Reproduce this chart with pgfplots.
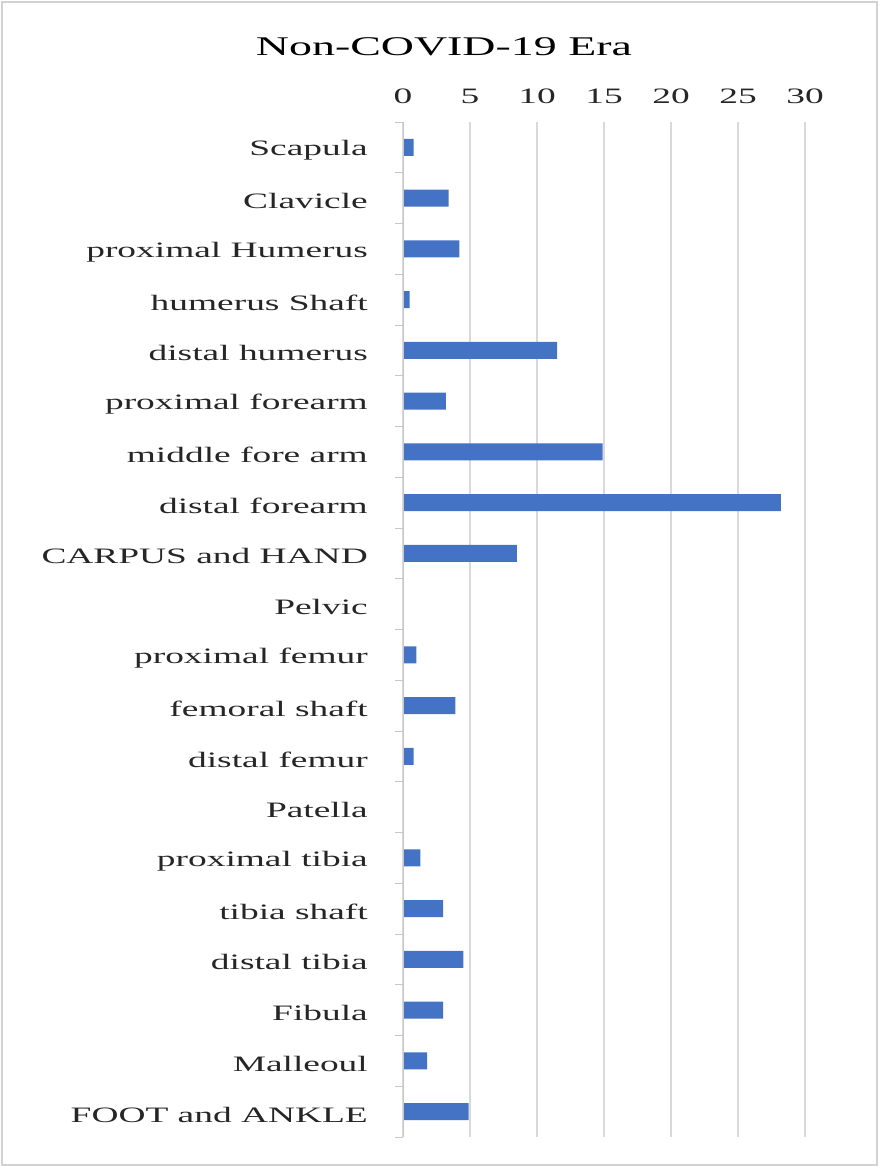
\documentclass[border=0pt]{standalone}
\usepackage{pgfplots}
\pgfplotsset{compat=1.18}
\usepackage{fontspec}
\setmainfont{Liberation Serif}[FakeStretch=1.7]
\definecolor{barblue}{RGB}{68,114,196}
\definecolor{gridgray}{RGB}{217,217,217}

\begin{document}
\begin{tikzpicture}
	\useasboundingbox (0,0) rectangle (879pt,1167pt);
	\draw [gray!35, line width=2pt] (2pt,2pt) rectangle (877pt,1165pt);
	\node [font=\fontsize{27}{32}\selectfont] at (444pt,1120pt) {Non-COVID-19 Era};
	\begin{axis}[
	at={(403pt,30pt)},
	anchor=south west,
	scale only axis,
	width=402pt,
	height=1015pt,
	xbar,
	bar width=17pt,
	xmin=0,
	xmax=30,
	ymin=-0.5,
	ymax=19.5,
	y dir=reverse,
	xtick={0,5,...,30},
	xticklabel pos=upper,
	xtick pos=upper,
	x tick style={draw=none},
	xmajorgrids,
	major x grid style={gridgray, line width=2pt},
	ytick={-0.5,0.5,...,19.5},
	yticklabels={},
	y tick style={gridgray!80!gray, line width=1pt},
	tick align=outside,
	ytick pos=left,
	major tick length=8pt,
	extra y ticks={0,1,...,19},
	extra y tick labels={Scapula,Clavicle,proximal Humerus,humerus Shaft,distal humerus,proximal forearm,middle fore arm,distal forearm,CARPUS and HAND,Pelvic,proximal femur,femoral shaft,distal femur,Patella,proximal tibia,tibia shaft,distal tibia,Fibula,Malleoul,FOOT and ANKLE},
	extra y tick style={major tick length=0pt, yticklabel style={anchor=east, inner sep=0pt, xshift=-35pt, yshift=-3pt}},
	axis line style={draw=none},
	/pgf/number format/assume math mode=true,
	ticklabel style={font=\fontsize{22}{26}\selectfont, text=black!85},
	xticklabel style={anchor=south, inner sep=0pt, yshift=10pt},
	]
	\addplot [fill=barblue, draw=none] coordinates {
		(0.8,0) (3.4,1) (4.2,2) (0.5,3) (11.5,4) (3.2,5) (14.9,6) (28.2,7)
		(8.5,8) (0,9) (1.0,10) (3.9,11) (0.8,12) (0,13) (1.3,14) (3.0,15)
		(4.5,16) (3.0,17) (1.8,18) (4.9,19)
	};
	\draw [gridgray!80!gray, line width=1.2pt] (axis cs:0,-0.5) -- (axis cs:0,19.5);
	\end{axis}
\end{tikzpicture}
\end{document}
